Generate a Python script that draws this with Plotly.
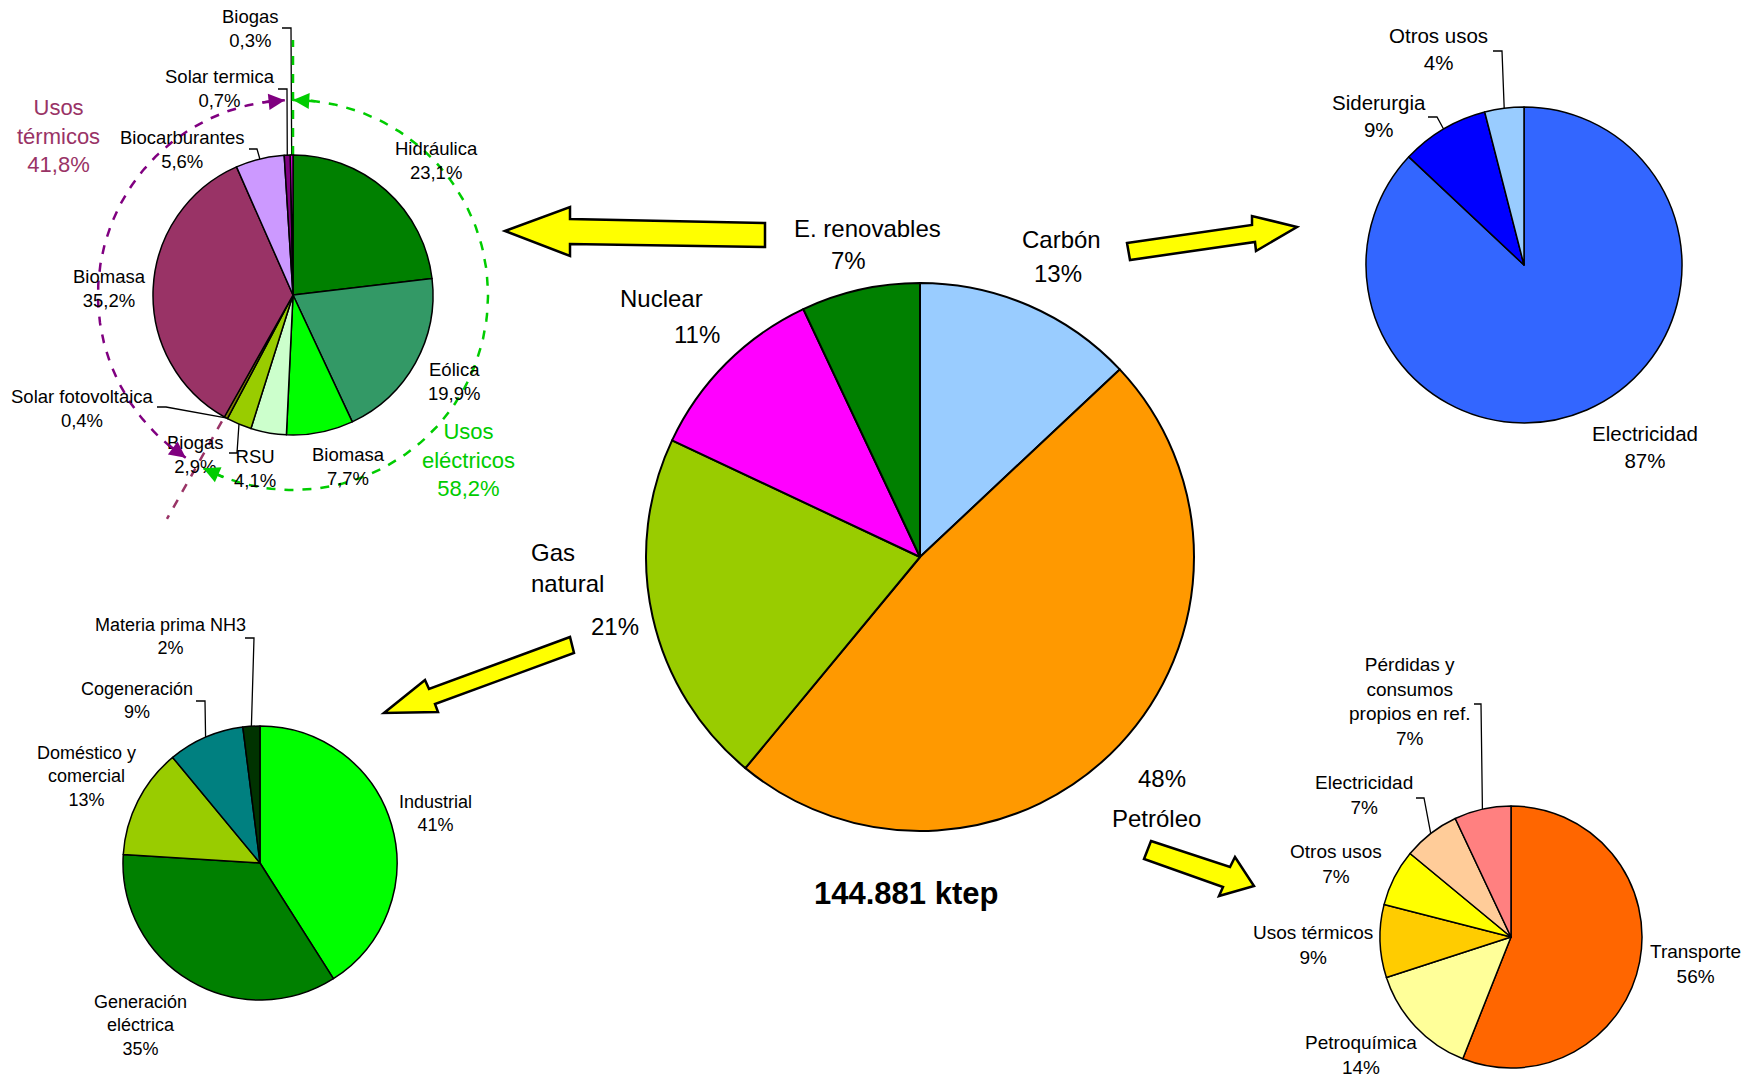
import numpy as np
import plotly.graph_objects as go

W, H = 1748, 1081
FONT = "Liberation Sans, Arial, sans-serif"

# consumo de energia primaria (%)
fuentes = ["Carbón", "Petróleo", "Gas<br>natural", "Nuclear", "E. renovables"]
fuentes_pct = [13, 48, 21, 11, 7]
fuentes_col = ["#99CCFF", "#FF9900", "#99CC00", "#FF00FF", "#008000"]
total_txt = "144.881 ktep"

# renovables (%)
renov = ["Hidráulica", "Eólica", "Biomasa", "RSU", "Biogas", "Solar fotovoltaica",
         "Biomasa", "Biocarburantes", "Solar termica", "Biogas"]
renov_pct = [23.1, 19.9, 7.7, 4.1, 2.9, 0.4, 35.2, 5.6, 0.7, 0.3]
renov_col = ["#008000", "#339966", "#00FF00", "#CCFFCC", "#99CC00", "#808000",
             "#993366", "#CC99FF", "#800080", "#FF00FF"]
usos = ["Usos<br>térmicos", "Usos<br>eléctricos"]
usos_pct = [41.8, 58.2]
usos_col = ["#993366", "#00CC00"]

# carbon (%)
carbon = ["Electricidad", "Siderurgia", "Otros usos"]
carbon_pct = [87, 9, 4]
carbon_col = ["#3366FF", "#0000FF", "#99CCFF"]

# gas natural (%)
gas = ["Industrial", "Generación<br>eléctrica", "Doméstico y<br>comercial",
       "Cogeneración", "Materia prima NH3"]
gas_pct = [41, 35, 13, 9, 2]
gas_col = ["#00FF00", "#008000", "#99CC00", "#008080", "#003300"]

# petroleo (%)
petro = ["Transporte", "Petroquímica", "Usos térmicos", "Otros usos", "Electricidad",
         "Pérdidas y<br>consumos<br>propios en ref."]
petro_pct = [56, 14, 9, 7, 7, 7]
petro_col = ["#FF6600", "#FFFF99", "#FFCC00", "#FFFF00", "#FFCC99", "#FF8080"]


def fmt(v, dec):
    return f"{v:.{dec}f}".replace(".", ",") + "%"


def edge(c, r, vals, i):
    # punto del borde en la mitad de la porcion i (sentido horario desde las 12)
    tot = sum(vals)
    a = np.radians((sum(vals[:i]) + vals[i] / 2) / tot * 360)
    return c[0] + r * np.sin(a), c[1] - r * np.cos(a)


def polar(c, r, deg):
    a = np.radians(deg)
    return c[0] + r * np.sin(a), c[1] - r * np.cos(a)


pies = [
    dict(labels=fuentes, vals=fuentes_pct, col=fuentes_col, c=(920, 557), r=274, lw=2),
    dict(labels=renov, vals=renov_pct, col=renov_col, c=(293, 295), r=140, lw=1.5,
         size=18.5, dec=1,
         pos=[(436, 160), (454, 381), (348, 466), (255, 468), (195, 454), (82, 408),
              (109, 288), (182, 149), (220, 88), (250, 28)],
         leaders=[(9, (282, 28), (291, 28)), (8, (278, 89), (287, 89)),
                  (7, (249, 149), (257, 149)), (5, (157, 407), (166, 407)),
                  (4, (229, 453), (237, 453))]),
    dict(labels=carbon, vals=carbon_pct, col=carbon_col, c=(1524, 265), r=158, lw=1.5,
         size=20.5, dec=0,
         pos=[(1645, 447), (1379, 116), (1438, 49)],
         leaders=[(2, (1493, 51), (1502, 51)), (1, (1428, 117), (1437, 117))]),
    dict(labels=gas, vals=gas_pct, col=gas_col, c=(260, 863), r=137, lw=1.5,
         size=18, dec=0,
         pos=[(435, 813), (140, 1025), (86, 776), (137, 700), (170, 636)],
         leaders=[(4, (245, 638), (254, 638)), (3, (196, 701), (205, 701))]),
    dict(labels=petro, vals=petro_pct, col=petro_col, c=(1511, 937), r=131, lw=1.5,
         size=19, dec=0,
         pos=[(1695, 964), (1361, 1055), (1313, 945), (1336, 864), (1364, 795), (1409, 701)],
         leaders=[(5, (1474, 704), (1481, 704)), (4, (1416, 798), (1424, 798))]),
]

fig = go.Figure()
annotations = []

for p in pies:
    cx, cy = p["c"]
    r = p["r"]
    fig.add_trace(go.Pie(
        labels=[f"{i}" for i in range(len(p["vals"]))], values=p["vals"],
        marker=dict(colors=p["col"], line=dict(color="black", width=p["lw"])),
        sort=False, direction="clockwise", rotation=0, textinfo="none",
        hoverinfo="skip", showlegend=False,
        domain=dict(x=[(cx - r) / W, (cx + r) / W], y=[1 - (cy + r) / H, 1 - (cy - r) / H]),
    ))
    if "pos" in p:
        for name, v, (x, y) in zip(p["labels"], p["vals"], p["pos"]):
            annotations.append(dict(x=x, y=y, text=f"{name}<br>{fmt(v, p['dec'])}",
                                    showarrow=False, font=dict(size=p["size"], color="black")))
        for i, a, b in p["leaders"]:
            e = edge(p["c"], r, p["vals"], i)
            fig.add_trace(go.Scatter(x=[a[0], b[0], e[0]], y=[a[1], b[1], e[1]], mode="lines",
                                     line=dict(color="black", width=1.3),
                                     hoverinfo="skip", showlegend=False))

# etiquetas del grafico principal
name_pos = [(1061, 239), (1156, 818), (529, 568), (661, 298), (867, 228)]
pct_pos = [(1058, 273), (1162, 778), (615, 626), (697, 334), (848, 260)]
for k, (name, v) in enumerate(zip(fuentes, fuentes_pct)):
    nx, ny = name_pos[k]
    left = "<br>" in name
    annotations.append(dict(x=nx, y=ny, text=name, showarrow=False,
                            xanchor="left" if left else "center", align="left",
                            font=dict(size=24, color="black")))
    annotations.append(dict(x=pct_pos[k][0], y=pct_pos[k][1], text=f"{v}%", showarrow=False,
                            font=dict(size=24, color="black")))
annotations.append(dict(x=906, y=893, text=f"<b>{total_txt}</b>", showarrow=False,
                        font=dict(size=31, color="black")))

# usos termicos / electricos alrededor del grafico de renovables
rc = pies[1]["c"]
for name, v, col, (x, y) in zip(usos, usos_pct, usos_col, [(58, 136), (468, 460)]):
    annotations.append(dict(x=x, y=y, text=f"{name}<br>{fmt(v, 1)}", showarrow=False,
                            font=dict(size=22, color=col)))

elec_deg = sum(renov_pct[:6]) / sum(renov_pct) * 360
R = 195
arcs = [("#00CC00", 0.0, elec_deg - 2), ("#800080", elec_deg + 4, 357.6)]
for col, a0, a1 in arcs:
    t = np.linspace(a0, a1, 120)
    pts = [polar(rc, R, d) for d in t]
    fig.add_trace(go.Scatter(x=[q[0] for q in pts], y=[q[1] for q in pts], mode="lines",
                             line=dict(color=col, width=2.5, dash="dash"),
                             hoverinfo="skip", showlegend=False))
    for tip_deg, tail_deg in [(a0, a0 + 7), (a1, a1 - 7)]:
        tip = polar(rc, R, tip_deg)
        tail = polar(rc, R, tail_deg)
        annotations.append(dict(x=tip[0], y=tip[1], ax=tail[0] - tip[0], ay=tail[1] - tip[1],
                                text="", showarrow=True, arrowhead=2, arrowsize=1.3,
                                arrowwidth=2.5, arrowcolor=col, standoff=0))

# lineas divisorias de los usos
for col, deg, r0, r1 in [("#00CC00", 0.0, 140, 255), ("#993366", elec_deg, 145, 257)]:
    a, b = polar(rc, r0, deg), polar(rc, r1, deg)
    fig.add_trace(go.Scatter(x=[a[0], b[0]], y=[a[1], b[1]], mode="lines",
                             line=dict(color=col, width=2.5, dash="dash"),
                             hoverinfo="skip", showlegend=False))

# flechas amarillas
flechas = [
    [(505, 231), (570, 207), (570, 219), (765, 223), (765, 247), (570, 244), (570, 256)],
    [(1127, 243), (1252, 225), (1252, 216), (1297, 227), (1256, 251), (1255, 242), (1130, 260)],
    [(570, 637), (429, 689), (425, 680), (384, 713), (438, 712), (435, 704), (574, 653)],
    [(1151, 841), (1230, 867), (1235, 857), (1254, 886), (1219, 896), (1223, 887), (1144, 859)],
]
shapes = []
for f in flechas:
    path = "M " + " L ".join(f"{x},{y}" for x, y in f) + " Z"
    shapes.append(dict(type="path", path=path, xref="x", yref="y", fillcolor="#FFFF00",
                       line=dict(color="black", width=2.5), layer="above"))

fig.update_layout(
    width=W, height=H, margin=dict(l=0, r=0, t=0, b=0),
    paper_bgcolor="white", plot_bgcolor="white",
    font=dict(family=FONT, color="black"),
    xaxis=dict(range=[0, W], visible=False, fixedrange=True, domain=[0, 1]),
    yaxis=dict(range=[H, 0], visible=False, fixedrange=True, domain=[0, 1]),
    annotations=annotations, shapes=shapes, showlegend=False,
)

fig.write_html("out.html", config={"displayModeBar": False},
               post_script="document.body.style.margin='0';document.body.style.overflow='hidden';")
